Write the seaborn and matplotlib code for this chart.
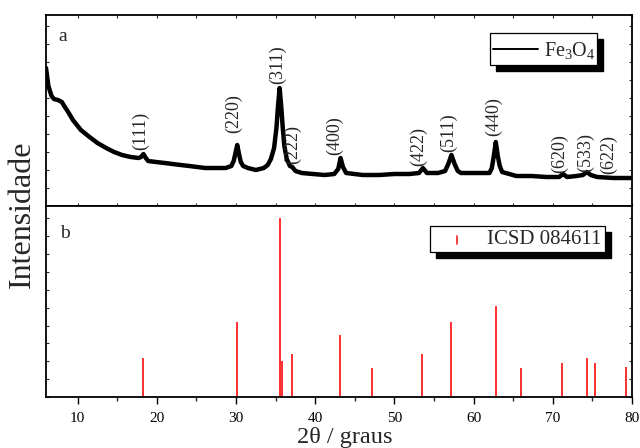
import numpy as np
import pandas as pd
import matplotlib
matplotlib.use("Agg")
import matplotlib.pyplot as plt
import seaborn as sns
from matplotlib.patches import Rectangle
from matplotlib.lines import Line2D
from matplotlib.ticker import MultipleLocator

# ---------------- data ----------------
# (a) measured XRD pattern of Fe3O4 (read from picture, arbitrary units)
two_theta = [6.0, 6.3, 6.7, 7.0, 7.5, 8.0, 8.3, 8.8, 9.4, 10.4, 11.5, 12.5, 13.6,
             14.6, 15.6, 16.7, 17.7, 18.0, 18.3, 18.6, 18.9, 19.9, 21.0, 22.0,
             23.0, 24.1, 25.1, 26.1, 27.4, 28.7, 29.4, 29.7, 29.9, 30.15, 30.4,
             30.6, 30.9, 31.5, 32.5, 33.5, 34.0, 34.4, 34.8, 35.1, 35.3, 35.5,
             35.7, 35.9, 36.1, 36.4, 36.8, 37.1, 37.5, 38.3, 39.7, 41.2, 42.4,
             42.9, 43.2, 43.5, 43.9, 46.0, 48.1, 50.0, 51.9, 53.1, 53.6, 54.1,
             55.5, 56.4, 56.8, 57.2, 57.6, 58.0, 58.4, 60.0, 62.0, 62.3, 62.55,
             62.8, 63.05, 63.3, 63.6, 65.4, 67.3, 69.2, 70.8, 71.3, 71.8, 73.0,
             73.8, 74.3, 74.8, 75.6, 77.7, 80.0]
intensity = [138, 120, 110, 107, 106, 104, 100, 94, 86, 76, 69, 63, 58,
             54, 51, 49, 48, 49, 52, 48, 45, 44, 43, 42,
             41, 40, 39, 38, 38, 38, 40, 45, 52, 61, 51,
             44, 40, 38, 36, 38, 41, 47, 58, 78, 100, 118,
             100, 78, 60, 47, 40, 39, 35, 33, 32, 31, 32,
             37, 48, 39, 33, 31, 31, 32, 32, 33, 38, 33,
             33, 35, 42, 51, 42, 35, 33, 33, 33, 38, 50,
             64, 50, 40, 34, 30, 30, 29, 29, 32, 29, 30,
             31, 34, 31, 29, 28, 28]

# hkl labels of panel (a)
hkl_labels = ["(111)", "(220)", "(311)", "(222)", "(400)", "(422)",
              "(511)", "(440)", "(620)", "(533)", "(622)"]
hkl_x = [18.0, 29.7, 35.2, 37.2, 42.5, 53.0, 56.8, 62.5, 70.9, 74.1, 77.0]
hkl_y = [75, 92, 141, 62, 70, 59, 73, 89, 52, 54, 52]

# (b) reference pattern ICSD 084611 (relative intensity)
ref_pos = [18.3, 30.1, 35.5, 35.75, 37.1, 43.1, 47.2, 53.5, 57.1, 62.8,
           66.0, 71.2, 74.3, 75.3, 79.2]
ref_int = [22, 42, 100, 20, 24, 35, 16, 24, 42, 51, 16, 19, 22, 19, 17]

# ---------------- style ----------------
sns.set_theme(style="ticks")
plt.rcParams['font.family'] = ['Liberation Serif', 'DejaVu Serif']
plt.rcParams['mathtext.fontset'] = 'custom'
plt.rcParams['mathtext.rm'] = 'Liberation Serif'
plt.rcParams['mathtext.it'] = 'Liberation Serif:italic'

fig = plt.figure(figsize=(6.4, 4.48), dpi=100)
W, H = 640, 448
left, right = 46 / W, 632 / W
axa = fig.add_axes([left, 1 - 206 / H, right - left, 191 / H])
axb = fig.add_axes([left, 1 - 397 / H, right - left, 191 / H])

df = pd.DataFrame({"two_theta": two_theta, "intensity": intensity})
sns.lineplot(data=df, x="two_theta", y="intensity", ax=axa, color="black",
             linewidth=3.2, sort=False, legend=False)

axb.vlines(ref_pos, 0, ref_int, color="#ff2020", linewidth=1.3)

for ax in (axa, axb):
    ax.set_xlim(6, 80)
    for s in ax.spines.values():
        s.set_linewidth(1.3)
        s.set_color("black")
    ax.set_xlabel("")
    ax.set_ylabel("")
    ax.set_yticklabels([])
    ax.tick_params(axis="y", which="both", direction="in", length=2.5,
                   width=0.8, left=True, right=True, labelleft=False)
    ax.xaxis.set_major_locator(MultipleLocator(10))
    ax.xaxis.set_minor_locator(MultipleLocator(5))

axa.set_ylim(0, 191)
axb.set_ylim(0, 107)
axa.yaxis.set_major_locator(MultipleLocator(18))
axb.yaxis.set_major_locator(MultipleLocator(10))

axa.tick_params(axis="x", which="both", direction="in", length=2.5, width=0.8,
                top=True, bottom=True, labelbottom=False)
axb.tick_params(axis="x", which="major", direction="out", length=5, width=1.0,
                top=False, labelsize=11, pad=6, colors="black")
axb.tick_params(axis="x", which="minor", direction="out", length=3, width=1.0,
                top=False)

# hkl labels
for lab, x, y in zip(hkl_labels, hkl_x, hkl_y):
    axa.text(x, y, lab, rotation=90, ha="center", va="center", fontsize=13)

# panel letters
axa.text(0.029, 0.885, "a", transform=axa.transAxes, fontsize=14,
         ha="center", va="center")
axb.text(0.033, 0.855, "b", transform=axb.transAxes, fontsize=14,
         ha="center", va="center")

# legend (a) with shadow
def box(ax, x0, y0, x1, y1, dx, dy):
    ax.add_patch(Rectangle((x0 + dx, y0 - dy), x1 - x0, y1 - y0,
                           transform=ax.transAxes, facecolor="black",
                           edgecolor="black", zorder=5))
    ax.add_patch(Rectangle((x0, y0), x1 - x0, y1 - y0,
                           transform=ax.transAxes, facecolor="white",
                           edgecolor="black", linewidth=0.9, zorder=6))

box(axa, 0.758, 0.738, 0.940, 0.906, 0.0102, 0.031)
axa.add_line(Line2D([0.763, 0.840], [0.822, 0.822], transform=axa.transAxes,
                    color="black", linewidth=1.4, zorder=7))
axa.text(0.850, 0.815, r"Fe$_{3}$O$_{4}$", transform=axa.transAxes, fontsize=14.5,
         ha="left", va="center", zorder=7)

box(axb, 0.655, 0.759, 0.954, 0.895, 0.0102, 0.031)
axb.add_line(Line2D([0.702, 0.702], [0.80, 0.845], transform=axb.transAxes,
                    color="#ff2020", linewidth=1.2, zorder=7))
axb.text(0.752, 0.822, "ICSD 084611", transform=axb.transAxes, fontsize=15,
         ha="left", va="center", zorder=7)

# axis titles
fig.text(22 / W, 1 - 214 / H, "Intensidade", rotation=90, ha="center",
         va="center", fontsize=23)
fig.text(345 / W, 1 - 437 / H, "2θ / graus", ha="center", va="center",
         fontsize=17.5)

fig.savefig("out.png", dpi=100)
